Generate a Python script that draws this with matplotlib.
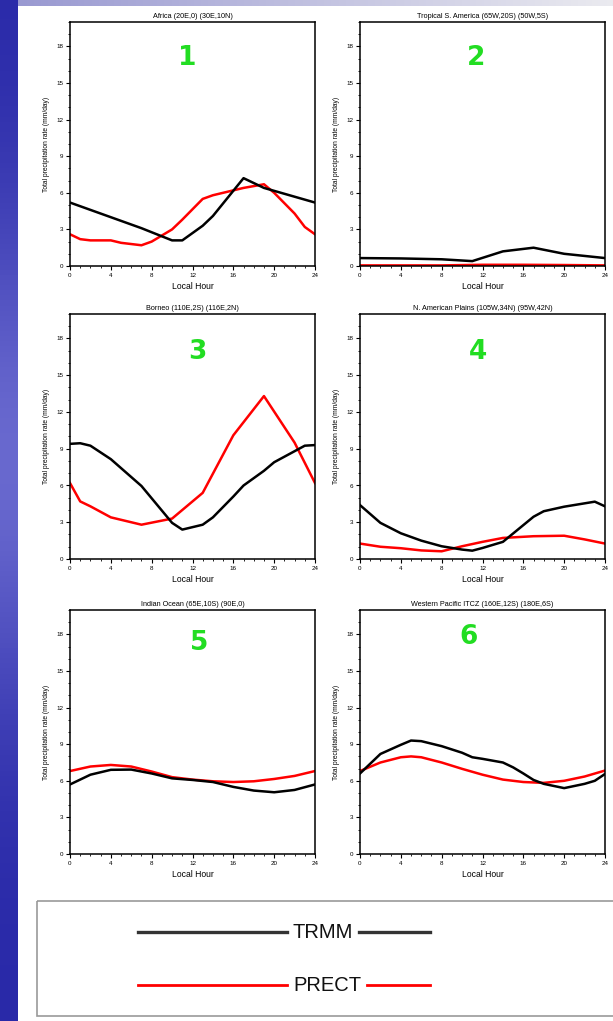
import numpy as np
import matplotlib
matplotlib.use("Agg")
import matplotlib.pyplot as plt
from matplotlib.ticker import MultipleLocator

plt.rcParams['font.family'] = ['Liberation Sans', 'DejaVu Sans']

# region titles and panel numbers
titles = ["Africa (20E,0) (30E,10N)",
          "Tropical S. America (65W,20S) (50W,5S)",
          "Borneo (110E,2S) (116E,2N)",
          "N. American Plains (105W,34N) (95W,42N)",
          "Indian Ocean (65E,10S) (90E,0)",
          "Western Pacific ITCZ (160E,12S) (180E,6S)"]
numbers = ["1", "2", "3", "4", "5", "6"]

# TRMM (black) hours / values per panel
trmm_hours = [
    [0, 7, 10, 11, 13, 14, 17, 19, 24],
    [0, 4, 8, 11, 14, 17, 20, 24],
    [0, 1, 2, 4, 7, 10, 11, 13, 14, 16, 17, 19, 20, 22, 23, 24],
    [0, 2, 4, 6, 8, 10, 11, 12, 14, 17, 18, 20, 23, 24],
    [0, 2, 4, 6, 8, 10, 12, 14, 16, 18, 20, 22, 24],
    [0, 2, 4, 5, 6, 8, 10, 11, 12, 14, 15, 16, 17, 18, 20, 22, 23, 24],
]
trmm_vals = [
    [5.2, 3.1, 2.1, 2.1, 3.3, 4.1, 7.2, 6.4, 5.2],
    [0.65, 0.62, 0.55, 0.4, 1.2, 1.5, 1.0, 0.65],
    [9.4, 9.45, 9.25, 8.15, 5.96, 2.95, 2.4, 2.8, 3.4, 5.1, 6.0, 7.2, 7.9, 8.8, 9.25, 9.3],
    [4.4, 2.95, 2.1, 1.5, 1.04, 0.77, 0.68, 0.9, 1.4, 3.45, 3.9, 4.27, 4.68, 4.3],
    [5.7, 6.5, 6.9, 6.92, 6.6, 6.2, 6.07, 5.9, 5.5, 5.2, 5.06, 5.25, 5.7],
    [6.6, 8.2, 8.95, 9.3, 9.25, 8.84, 8.3, 7.93, 7.8, 7.5, 7.1, 6.6, 6.07, 5.75, 5.4, 5.75, 6.0, 6.56],
]

# PRECT (red) hours / values per panel
prect_hours = [
    [0, 1, 2, 4, 5, 7, 8, 10, 11, 13, 14, 16, 17, 19, 20, 22, 23, 24],
    [0, 4, 8, 12, 16, 20, 24],
    [0, 1, 2, 4, 7, 10, 13, 16, 19, 22, 24],
    [0, 2, 4, 6, 8, 10, 12, 14, 17, 20, 22, 24],
    [0, 2, 4, 6, 8, 10, 12, 14, 16, 18, 20, 22, 24],
    [0, 2, 4, 5, 6, 8, 10, 12, 14, 16, 18, 20, 22, 24],
]
prect_vals = [
    [2.6, 2.2, 2.1, 2.1, 1.9, 1.7, 2.0, 3.0, 3.8, 5.5, 5.8, 6.2, 6.4, 6.7, 6.0, 4.3, 3.2, 2.6],
    [0.05, 0.05, 0.05, 0.1, 0.1, 0.08, 0.05],
    [6.2, 4.7, 4.3, 3.4, 2.8, 3.3, 5.4, 10.1, 13.3, 9.5, 6.2],
    [1.26, 1.0, 0.88, 0.7, 0.63, 1.04, 1.4, 1.72, 1.86, 1.9, 1.6, 1.26],
    [6.8, 7.17, 7.3, 7.17, 6.76, 6.3, 6.1, 5.96, 5.9, 5.96, 6.15, 6.4, 6.8],
    [6.8, 7.5, 7.93, 8.0, 7.93, 7.5, 6.98, 6.5, 6.1, 5.9, 5.83, 6.0, 6.35, 6.84],
]

W, H = 613, 1021
fig = plt.figure(figsize=(W / 100, H / 100), dpi=100)

# slide background: blue strip on the left and a pale band on top
bg = fig.add_axes([0, 0, 1, 1])
bg.set_xlim(0, W)
bg.set_ylim(H, 0)
bg.axis("off")
yy = np.linspace(0, 1, 200)[:, None]
strip = np.ones((200, 1, 3))
light = np.exp(-((yy - 0.45) / 0.25) ** 2)
strip[:, :, 0] = 0.16 + 0.25 * light
strip[:, :, 1] = 0.16 + 0.25 * light
strip[:, :, 2] = 0.66 + 0.15 * light
bg.imshow(strip, extent=[0, 18, H, 0], aspect="auto")
xx = np.linspace(0, 1, 200)[None, :]
band = np.ones((1, 200, 3))
band[:, :, 0] = 0.60 + 0.32 * xx
band[:, :, 1] = 0.60 + 0.32 * xx
band[:, :, 2] = 0.82 + 0.12 * xx
bg.imshow(band, extent=[18, W, 6, 0], aspect="auto")

# legend box
bg.add_patch(plt.Rectangle((37, 901), 600, 115, fill=False, ec="#999999", lw=1.2))
bg.plot([138, 287], [932, 932], color="#333333", lw=2.4)
bg.plot([359, 430], [932, 932], color="#333333", lw=2.4)
bg.text(323, 932, "TRMM", ha="center", va="center", fontsize=14.5, color="#111111")
bg.plot([138, 287], [985, 985], color="red", lw=2)
bg.plot([367, 430], [985, 985], color="red", lw=2)
bg.text(327, 985, "PRECT", ha="center", va="center", fontsize=14.5, color="#111111")

lefts = [70, 360]
rows = [(22, 266), (314, 559), (610, 854)]
num_pos = [(187, 58), (476, 58), (197, 352), (478, 352), (199, 643), (469, 637)]

for i in range(6):
    r, c = divmod(i, 2)
    top, bot = rows[r]
    x0 = lefts[c]
    ax = fig.add_axes([x0 / W, 1 - bot / H, 245 / W, (bot - top) / H])
    ax.plot(prect_hours[i], prect_vals[i], color="red", lw=1.8)
    ax.plot(trmm_hours[i], trmm_vals[i], color="black", lw=1.8)
    ax.set_xlim(0, 24)
    ax.set_ylim(0, 20)
    ax.set_xticks(range(0, 25, 4))
    ax.set_yticks(range(0, 19, 3))
    ax.xaxis.set_minor_locator(MultipleLocator(1))
    ax.yaxis.set_minor_locator(MultipleLocator(1))
    ax.tick_params(which="major", direction="out", length=3, width=0.8,
                   labelsize=4.5, pad=2, top=False, right=False)
    ax.tick_params(which="minor", direction="out", length=1.5, width=0.6,
                   top=False, right=False)
    for s in ax.spines.values():
        s.set_linewidth(1.1)
    ax.set_title(titles[i], fontsize=5.2, pad=3)
    ax.set_xlabel("Local Hour", fontsize=6.2, labelpad=3)
    ax.set_ylabel("Total precipitation rate (mm/day)", fontsize=4.8, labelpad=4)
    nx, ny = num_pos[i]
    fig.text(nx / W, 1 - ny / H, numbers[i], ha="center", va="center",
             fontsize=19, fontweight="bold", color="#22dd22",
             family="DejaVu Sans")

fig.savefig("out.png", dpi=100)
